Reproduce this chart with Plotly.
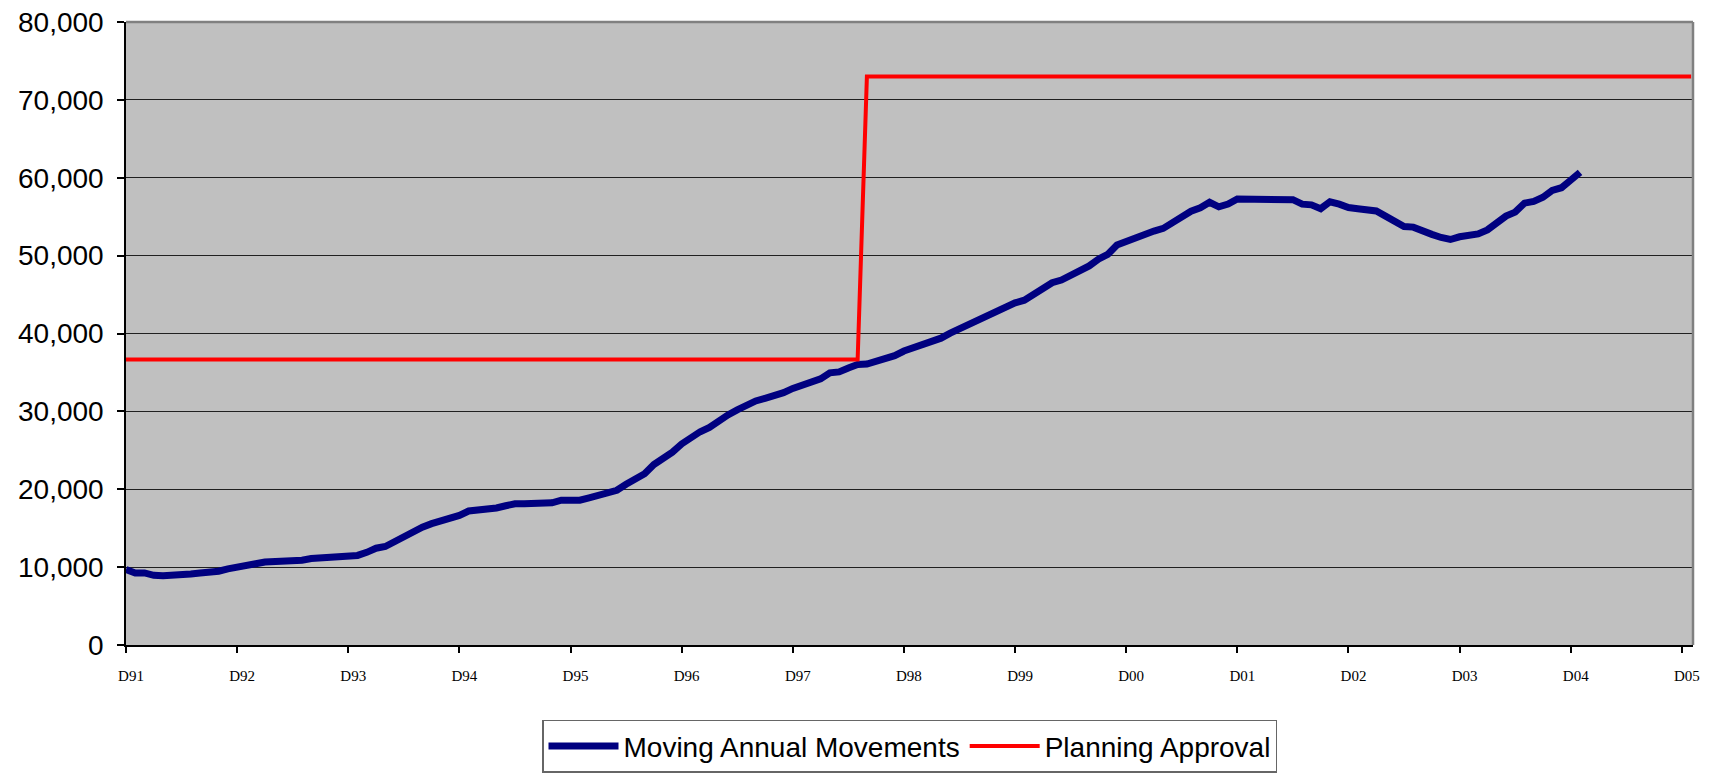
import plotly.graph_objects as go

# Year labels on the category axis (one every 12 monthly categories)
tick_labels = ["D91", "D92", "D93", "D94", "D95", "D96", "D97", "D98", "D99",
               "D00", "D01", "D02", "D03", "D04", "D05"]
months_per_label = 12
n_categories = 170  # monthly categories from Dec 1991

# Moving annual movements, monthly from Dec 1991
movements = [
    9700, 9250, 9250, 8950, 8900, 8900, 8900, 9120, 9250, 9250, 9470, 9780,
    9950, 10050, 10440, 10660, 10660, 10660, 10660, 10880, 11100, 11150, 11330, 11330,
    11330, 11500, 11900, 12430, 12650, 13320, 13980, 14470, 15130, 15580, 15880, 16280,
    16640, 17210, 17300, 17550, 17600, 17880, 18130, 18130, 18130, 18130, 18260, 18600,
    18600, 18600, 18900, 19150, 19400, 19870, 20640, 21270, 22000, 23180, 23900, 24760,
    25820, 26670, 27390, 27940, 28790, 29550, 30190, 30830, 31340, 31680, 31970, 32400,
    32950, 33370, 33630, 34180, 34950, 35070, 35580, 36010, 36080, 36400, 36720, 37150,
    37750, 38190, 38530, 38880, 39400, 40040, 40600, 41340, 41900, 42420, 42850, 43500,
    43930, 44280, 45010, 45790, 46520, 46870, 47470, 47910, 48680, 49550, 50150, 51360,
    51850, 52300, 52850, 53150, 53500, 54250, 55050, 55700, 56150, 56850, 56270, 56620,
    57280, 57280, 57280, 57280, 57280, 57280, 57180, 56610, 56520, 56030, 56920, 56610,
    56170, 56030, 55810, 55730, 55070, 54270, 53740, 53660, 53080, 52730, 52330, 52070,
    52420, 52510, 52780, 53300, 54180, 55070, 55590, 56740, 56960, 57490, 58370, 58720,
    59690, 60700,
]

# Planning approval (step change in mid-1998)
approval_months = [0, 79, 80, 169]
approval_values = [36650, 36650, 73000, 73000]

movement_months = list(range(len(movements)))
tick_positions = [i * months_per_label for i in range(len(tick_labels))]

fig = go.Figure()
fig.add_trace(go.Scatter(
    x=movement_months, y=movements, mode="lines",
    name="Moving Annual Movements",
    line=dict(color="#000080", width=7),
))
fig.add_trace(go.Scatter(
    x=approval_months, y=approval_values, mode="lines",
    name="Planning Approval",
    line=dict(color="#FF0000", width=4),
))

fig.update_layout(
    width=1716, height=778,
    autosize=False,
    margin=dict(l=118, r=31, t=14, b=141, autoexpand=False),
    paper_bgcolor="white",
    plot_bgcolor="#C0C0C0",
    showlegend=True,
    legend=dict(
        orientation="h",
        x=0.5, xanchor="center",
        yref="container", y=0.085, yanchor="top",
        bgcolor="white",
        bordercolor="#666666", borderwidth=1.5,
        font=dict(family="Liberation Sans, Arial, sans-serif", size=28, color="black"),
        itemwidth=70,
        tracegroupgap=0,
    ),
    shapes=[
        dict(type="line", xref="paper", yref="paper", x0=0, x1=1, y0=1, y1=1,
             line=dict(color="#808080", width=2.5), layer="above"),
        dict(type="line", xref="paper", yref="paper", x0=1, x1=1, y0=0, y1=1,
             line=dict(color="#808080", width=2.5), layer="above"),
    ],
)

fig.update_xaxes(
    range=[0, n_categories - 0.8],
    automargin=False,
    ticklabeloverflow="allow",
    tickmode="array", tickvals=tick_positions, ticktext=tick_labels,
    ticks="outside", ticklen=6, tickwidth=1.5, tickcolor="black",
    showline=True, linecolor="black", linewidth=1.5,
    showgrid=False, zeroline=False,
    tickfont=dict(family="Liberation Serif, Times New Roman, serif", size=15, color="black"),
    ticklabelstandoff=10,
    ticklabelshift=5,
)
fig.update_yaxes(
    range=[0, 80000], dtick=10000, tickformat=",",
    automargin=False,
    ticklabeloverflow="allow",
    ticks="outside", ticklen=7, tickwidth=1.5, tickcolor="black",
    showline=True, linecolor="black", linewidth=1.5,
    showgrid=True, gridcolor="#202020", gridwidth=1,
    zeroline=False,
    tickfont=dict(family="Liberation Sans, Arial, sans-serif", size=28, color="black"),
    ticklabelstandoff=8,
)

fig.write_html("out.html")
